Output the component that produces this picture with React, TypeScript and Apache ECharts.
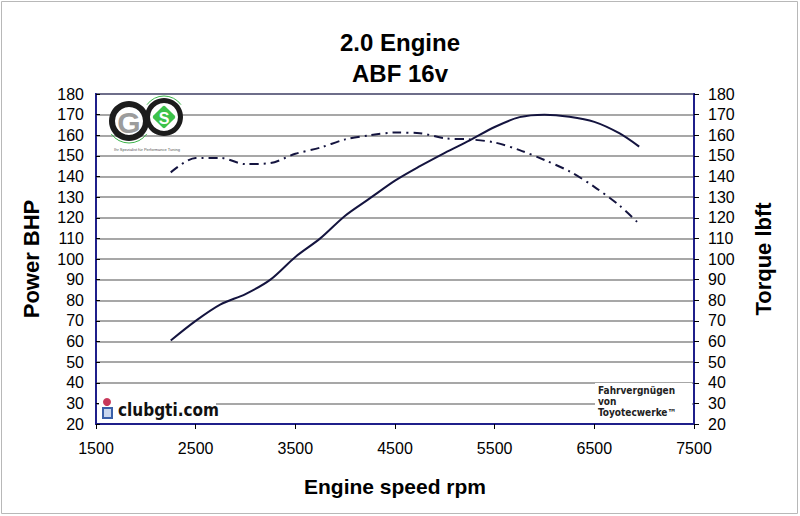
import { useEffect, useRef } from 'react';
import * as echarts from 'echarts';

const rpm = [2250, 2500, 2750, 3000, 3250, 3500, 3750, 4000, 4250, 4500, 4750, 5000, 5250, 5500, 5750, 6000, 6250, 6500, 6750, 6950];
const powerBhp = [60.5, 70, 78, 83, 90, 101, 110, 121, 129.5, 138, 145, 151.5, 157.5, 164, 168.8, 170, 169, 166.5, 161, 154.5];
const torqueLbft = [142, 149, 149, 146, 146.5, 151, 154, 158, 160, 161.3, 161, 158.5, 158, 156.5, 152.8, 148, 142.5, 135, 126, 117];
const xTicks = [1500, 2500, 3500, 4500, 5500, 6500, 7500];

const FONT = 'Liberation Sans, Arial, sans-serif';
const NAVY = '#1f1f8a';
const LINE = '#14143f';

export default function App() {
  const ref = useRef<HTMLDivElement>(null);

  useEffect(() => {
    if (!ref.current) {
      return undefined;
    }
    document.body.style.margin = '0';

    const chart = echarts.init(ref.current, undefined, { renderer: 'svg' });
    const option: echarts.EChartsOption = {
      animation: false,
      backgroundColor: '#fff',
      title: {
        text: '2.0 Engine\nABF 16v',
        left: 'center',
        top: 22,
        textStyle: { fontFamily: FONT, fontSize: 24, fontWeight: 'bold', color: '#000', lineHeight: 31 },
      },
      grid: { left: 96, right: 106, top: 94, bottom: 92, show: true, borderColor: NAVY, borderWidth: 2 },
      xAxis: {
        type: 'value',
        min: 1500,
        max: 7500,
        splitLine: { show: false },
        axisLine: { lineStyle: { color: NAVY, width: 2 } },
        axisTick: { customValues: xTicks, length: 5, lineStyle: { color: '#000' } },
        axisLabel: {
          customValues: xTicks,
          formatter: (v: number) => String(v),
          margin: 16,
          color: '#000',
          fontSize: 16,
          fontFamily: FONT,
        },
        name: 'Engine speed rpm',
        nameLocation: 'middle',
        nameGap: 52,
        nameTextStyle: { fontFamily: FONT, fontSize: 21, fontWeight: 'bold', color: '#000' },
      },
      yAxis: [
        {
          type: 'value',
          min: 20,
          max: 180,
          interval: 10,
          axisLine: { show: true, lineStyle: { color: NAVY, width: 2 } },
          axisTick: { show: true, inside: true, length: 4, lineStyle: { color: '#000' } },
          axisLabel: { margin: 12, color: '#000', fontSize: 16, fontFamily: FONT },
          splitLine: { lineStyle: { color: '#8a8a8a', width: 1.5 } },
          name: 'Power BHP',
          nameLocation: 'middle',
          nameGap: 54,
          nameRotate: 90,
          nameTextStyle: { fontFamily: FONT, fontSize: 22, fontWeight: 'bold', color: '#000' },
        },
        {
          type: 'value',
          position: 'right',
          min: 20,
          max: 180,
          interval: 10,
          axisLine: { show: true, lineStyle: { color: NAVY, width: 2 } },
          axisTick: { show: true, length: 5, lineStyle: { color: '#000' } },
          axisLabel: { margin: 14, color: '#000', fontSize: 16, fontFamily: FONT },
          splitLine: { show: false },
          name: 'Torque lbft',
          nameLocation: 'middle',
          nameGap: 58,
          nameRotate: 90,
          nameTextStyle: { fontFamily: FONT, fontSize: 22, fontWeight: 'bold', color: '#000' },
        },
      ],
      series: [
        {
          name: 'Power',
          type: 'line',
          yAxisIndex: 0,
          smooth: 0.3,
          showSymbol: false,
          data: rpm.map((r, i) => [r, powerBhp[i]]),
          lineStyle: { color: LINE, width: 2 },
        },
        {
          name: 'Torque',
          type: 'line',
          yAxisIndex: 1,
          smooth: 0.3,
          showSymbol: false,
          data: rpm.map((r, i) => [r, torqueLbft[i]]),
          lineStyle: { color: LINE, width: 2, type: [9, 5, 2, 5] },
        },
      ],
      graphic: [
        // outer frame of the picture
        { type: 'rect', shape: { x: 1.5, y: 1.5, width: 796, height: 512 }, style: { fill: 'none', stroke: '#b8b8b8', lineWidth: 1 }, silent: true },
        // GS logo
        { type: 'circle', shape: { cx: 129, cy: 121, r: 20 }, style: { fill: '#1c1c1c' }, z: 10 },
        { type: 'circle', shape: { cx: 129, cy: 121, r: 14 }, style: { fill: '#fff' }, z: 11 },
        { type: 'text', x: 129, y: 122, style: { text: 'G', fontSize: 30, fontWeight: 'bold', fontFamily: FONT, fill: '#9c9c9c', align: 'center', verticalAlign: 'middle' }, z: 12 },
        { type: 'arc', shape: { cx: 129, cy: 121, r: 22, startAngle: Math.PI * 0.2, endAngle: Math.PI * 0.8 }, style: { stroke: '#3cb44a', lineWidth: 1, fill: 'none' }, z: 11 },
        { type: 'circle', shape: { cx: 164, cy: 117, r: 19 }, style: { fill: '#1c1c1c' }, z: 10 },
        { type: 'circle', shape: { cx: 164, cy: 117, r: 14 }, style: { fill: '#fff' }, z: 11 },
        { type: 'rect', x: 164, y: 117, rotation: Math.PI / 4, shape: { x: -8.5, y: -8.5, width: 17, height: 17, r: 2 }, style: { fill: '#3cc24a' }, z: 12 },
        { type: 'text', x: 164, y: 118, style: { text: 'S', fontSize: 16, fontWeight: 'bold', fontFamily: FONT, fill: '#fff', align: 'center', verticalAlign: 'middle' }, z: 13 },
        { type: 'arc', shape: { cx: 164, cy: 117, r: 21, startAngle: Math.PI * 1.2, endAngle: Math.PI * 1.8 }, style: { stroke: '#3cb44a', lineWidth: 1, fill: 'none' }, z: 11 },
        { type: 'text', x: 147, y: 147, style: { text: 'Ihr Spezialist für Performance Tuning', fontSize: 4, fontFamily: FONT, fill: '#555', align: 'center' }, z: 11 },
        // clubgti.com badge
        { type: 'rect', shape: { x: 99, y: 396, width: 117, height: 24 }, style: { fill: '#fff' }, z: 10 },
        { type: 'circle', shape: { cx: 107, cy: 402, r: 4 }, style: { fill: '#c8385a' }, z: 11 },
        { type: 'rect', shape: { x: 102, y: 407, width: 11, height: 12 }, style: { fill: '#3a5fa8' }, z: 11 },
        { type: 'rect', shape: { x: 104, y: 409, width: 7, height: 8 }, style: { fill: '#c9d6ee' }, z: 12 },
        { type: 'text', x: 118, y: 410, style: { text: 'clubgti.com', fontSize: 17, fontWeight: 'bold', fontFamily: 'DejaVu Sans Condensed, DejaVu Sans, sans-serif', fill: '#111', verticalAlign: 'middle' }, z: 11 },
        // Fahrvergnügen note
        { type: 'rect', shape: { x: 595, y: 383, width: 97, height: 38 }, style: { fill: '#fff' }, z: 10 },
        {
          type: 'text',
          x: 598,
          y: 401,
          style: {
            text: 'Fahrvergnügen\nvon\nToyotecwerke™',
            fontSize: 10,
            fontWeight: 'bold',
            fontFamily: 'DejaVu Sans Condensed, DejaVu Sans, sans-serif',
            fill: '#222',
            lineHeight: 11,
            verticalAlign: 'middle',
          },
          z: 11,
        },
      ],
    };

    chart.setOption(option);
    const resize = () => chart.resize();
    window.addEventListener('resize', resize);

    return () => {
      window.removeEventListener('resize', resize);
      chart.dispose();
    };
  }, []);

  return <div ref={ref} style={{ position: 'absolute', left: 0, top: 0, width: 800, height: 516 }} />;
}
